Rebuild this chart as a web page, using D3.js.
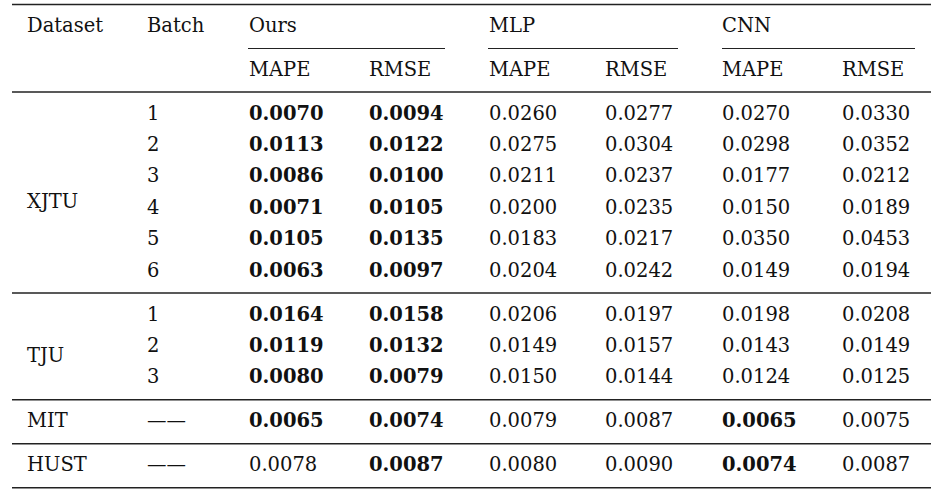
<!DOCTYPE html>
<html>
<head>
<meta charset="utf-8">
<script src="https://cdn.jsdelivr.net/npm/d3@7"></script>
<style>
body { margin: 0; background: #fff; }
text { font-family: "DejaVu Serif", serif; font-size: 19.5px; fill: #111; }
</style>
</head>
<body>
<div id="chart"></div>
<script>
//Table size
var w = 945;
var h = 491;

//Header labels
var groups = ["Ours", "MLP", "CNN"];
var metrics = ["MAPE", "RMSE"];

//Row labels
var datasets = ["XJTU", "TJU", "MIT", "HUST"];
var batches = [["1","2","3","4","5","6"], ["1","2","3"], ["——"], ["——"]];

//Values per dataset: each row = Ours MAPE, Ours RMSE, MLP MAPE, MLP RMSE, CNN MAPE, CNN RMSE
var xjtu = [
    ["0.0070","0.0094","0.0260","0.0277","0.0270","0.0330"],
    ["0.0113","0.0122","0.0275","0.0304","0.0298","0.0352"],
    ["0.0086","0.0100","0.0211","0.0237","0.0177","0.0212"],
    ["0.0071","0.0105","0.0200","0.0235","0.0150","0.0189"],
    ["0.0105","0.0135","0.0183","0.0217","0.0350","0.0453"],
    ["0.0063","0.0097","0.0204","0.0242","0.0149","0.0194"]
];
var tju = [
    ["0.0164","0.0158","0.0206","0.0197","0.0198","0.0208"],
    ["0.0119","0.0132","0.0149","0.0157","0.0143","0.0149"],
    ["0.0080","0.0079","0.0150","0.0144","0.0124","0.0125"]
];
var mit = [["0.0065","0.0074","0.0079","0.0087","0.0065","0.0075"]];
var hust = [["0.0078","0.0087","0.0080","0.0090","0.0074","0.0087"]];

//Which cells are bold (column indexes)
var boldXjtu = [[0,1],[0,1],[0,1],[0,1],[0,1],[0,1]];
var boldTju = [[0,1],[0,1],[0,1]];
var boldMit = [[0,1,4]];
var boldHust = [[1,4]];

var values = [xjtu, tju, mit, hust];
var bolds = [boldXjtu, boldTju, boldMit, boldHust];

//Column x positions
var colNames = ["Dataset","Batch","c0","c1","c2","c3","c4","c5"];
var xscale = d3.scaleOrdinal()
                .domain(colNames)
                .range([27, 147, 249, 369, 489, 605, 722, 842]);

var rowH = 31.4;   //spacing between body rows
var gap = 22;      //space between a rule and the next row
var left = 12, right = 931;

var svg = d3.select("#chart").append("svg")
            .attr("width", w).attr("height", h);

function rule(y, x1, x2, sw)
{
    svg.append("line")
        .attr("x1", x1).attr("x2", x2)
        .attr("y1", y).attr("y2", y)
        .attr("stroke", "#222")
        .attr("stroke-width", sw);
}

function label(x, y, t, bold)
{
    svg.append("text")
        .attr("x", x).attr("y", y)
        .attr("dominant-baseline", "middle")
        .style("font-weight", bold ? "bold" : "normal")
        .text(t);
}

//Header
rule(4.5, left, right, 1.4);
label(xscale("Dataset"), 26, "Dataset");
label(xscale("Batch"), 26, "Batch");
var spans = [[248, 445], [488, 678], [722, 915]];
groups.forEach(function(g, i)
{
    label(xscale("c" + (i * 2)), 26, g);
    rule(48.5, spans[i][0], spans[i][1], 1.2);
    metrics.forEach(function(m, j)
    {
        label(xscale("c" + (i * 2 + j)), 70, m);
    });
});
rule(92, left, right, 1.4);

//Body
var y = 92;
datasets.forEach(function(ds, di)
{
    var rows = values[di];
    var top = y;
    rows.forEach(function(r, ri)
    {
        var ry = top + gap + ri * rowH;
        label(xscale("Batch"), ry, batches[di][ri]);
        r.forEach(function(v, ci)
        {
            label(xscale("c" + ci), ry, v, bolds[di][ri].indexOf(ci) >= 0);
        });
    });
    var bottom = top + gap * 2 + (rows.length - 1) * rowH;
    //multi-row labels sit a little below the middle, as in the original
    var off = rows.length > 1 ? 10 : 0;
    label(xscale("Dataset"), (top + bottom) / 2 + off, ds);
    rule(bottom, left, right, 1.4);
    y = bottom;
});
</script>
</body>
</html>
